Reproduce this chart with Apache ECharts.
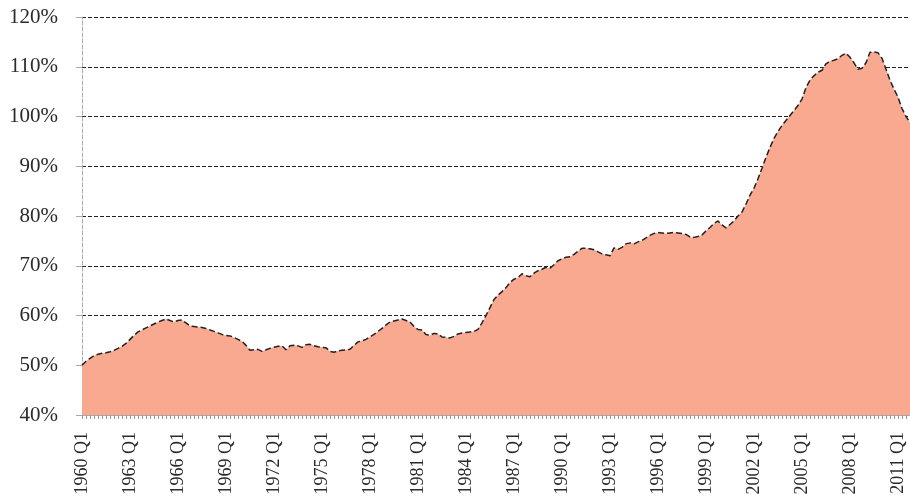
<!DOCTYPE html>
<html lang="en">
<head>
  <meta charset="UTF-8">
  <title>Debt ratio</title>
  <style>
    html, body { margin: 0; padding: 0; background: #fff; }
  </style>
</head>
<body>
  <div id="main" style="width: 910px;height:500px;"></div>

  <script src="https://cdn.jsdelivr.net/npm/echarts@6.0.0/dist/echarts.min.js"></script>

  <script type="text/javascript">
    // quarterly categories 1960 Q1 .. 2011 Q4
    var firstYear = 1960;
    var lastYear = 2011;
    var quarters = [];
    for (var y = firstYear; y <= lastYear; y++) {
      for (var q = 1; q <= 4; q++) {
        quarters.push(y + ' Q' + q);
      }
    }

    // ratio in percent, one value per quarter
    var ratio = [
      50.0, 50.8, 51.4, 51.9, 52.2, 52.4, 52.5, 52.7, 53.0, 53.4,
      53.8, 54.4, 55.2, 56.0, 56.7, 57.1, 57.5, 57.9, 58.3, 58.7,
      59.0, 59.3, 59.0, 58.7, 59.0, 59.1, 58.5, 57.9, 57.8, 57.7,
      57.6, 57.4, 57.1, 56.8, 56.5, 56.2, 56.0, 55.9, 55.6, 55.2,
      54.8, 54.0, 53.0, 53.1, 53.2, 52.8, 53.1, 53.4, 53.6, 53.8,
      53.9, 53.1, 53.9, 54.0, 53.9, 53.6, 54.1, 54.2, 53.9, 53.7,
      53.6, 53.5, 52.8, 52.6, 52.9, 53.0, 53.1, 53.2, 54.0, 54.7,
      54.9, 55.2, 55.7, 56.2, 56.8, 57.4, 58.1, 58.7, 58.9, 59.1,
      59.3, 59.0, 58.7, 57.8, 57.2, 57.1, 56.2, 56.0, 56.4, 56.3,
      55.7, 55.6, 55.5, 55.8, 56.3, 56.5, 56.6, 56.7, 56.8, 57.2,
      58.5, 60.0, 61.6, 63.2, 64.1, 64.8, 65.6, 66.6, 67.3, 67.6,
      68.4, 68.0, 67.8, 68.5, 69.0, 69.3, 69.7, 69.5, 70.2, 71.0,
      71.4, 71.7, 71.8, 72.3, 72.9, 73.5, 73.5, 73.4, 73.2, 72.8,
      72.4, 72.2, 72.0, 73.6, 73.3, 73.7, 74.4, 74.6, 74.4, 74.8,
      75.1, 75.6, 76.1, 76.5, 76.7, 76.6, 76.5, 76.6, 76.7, 76.6,
      76.5, 76.3, 75.8, 75.7, 75.9, 76.2, 77.0, 77.7, 78.5, 79.0,
      78.2, 77.6, 78.3, 79.0, 80.0, 80.8, 82.4, 84.2, 85.6, 87.5,
      89.6, 91.8, 93.8, 95.6, 97.0, 98.2, 99.2, 100.2, 101.2, 102.2,
      103.5, 105.8, 107.3, 108.2, 108.9, 109.3, 110.6, 111.1, 111.3, 111.6,
      112.3, 112.7, 111.9, 110.8, 109.5, 109.7, 110.8, 112.9, 113.0, 112.8,
      111.7, 109.5, 107.3, 105.5, 103.9, 101.6, 100.0, 98.8
    ];

    var yMin = 40;
    var yMax = 120;
    var yStep = 10;

    var myChart = echarts.init(document.getElementById('main'));

    var option = {
      backgroundColor: '#fff',
      animation: false,
      grid: {
        left: 82,
        right: 0,
        top: 17,
        bottom: 85,
        containLabel: false
      },
      xAxis: {
        type: 'category',
        data: quarters,
        boundaryGap: false,
        axisLine: {
          show: true,
          lineStyle: { color: '#aaa', width: 1 }
        },
        axisTick: {
          show: true,
          interval: 0,
          length: 4,
          lineStyle: { color: '#999' }
        },
        axisLabel: {
          interval: 11,
          rotate: 90,
          margin: 17,
          fontFamily: 'Liberation Serif',
          fontSize: 18,
          color: '#2a2a2a'
        },
        splitLine: { show: false }
      },
      yAxis: {
        type: 'value',
        min: yMin,
        max: yMax,
        interval: yStep,
        axisLine: {
          show: true,
          lineStyle: { color: '#aaa', type: 'dashed', width: 1 }
        },
        axisTick: {
          show: true,
          length: 6,
          lineStyle: { color: '#aaa' }
        },
        axisLabel: {
          formatter: '{value}%',
          margin: 24,
          fontFamily: 'Liberation Serif',
          fontSize: 21,
          color: '#2a2a2a'
        },
        splitLine: {
          show: true,
          lineStyle: { color: '#222', type: 'dashed', width: 1 }
        }
      },
      series: [{
        type: 'line',
        data: ratio,
        symbol: 'none',
        smooth: false,
        lineStyle: {
          color: '#222',
          width: 1.5,
          type: 'dashed'
        },
        areaStyle: {
          color: '#f8a990',
          opacity: 1
        },
        z: 3
      }]
    };

    myChart.setOption(option);
  </script>
</body>
</html>
